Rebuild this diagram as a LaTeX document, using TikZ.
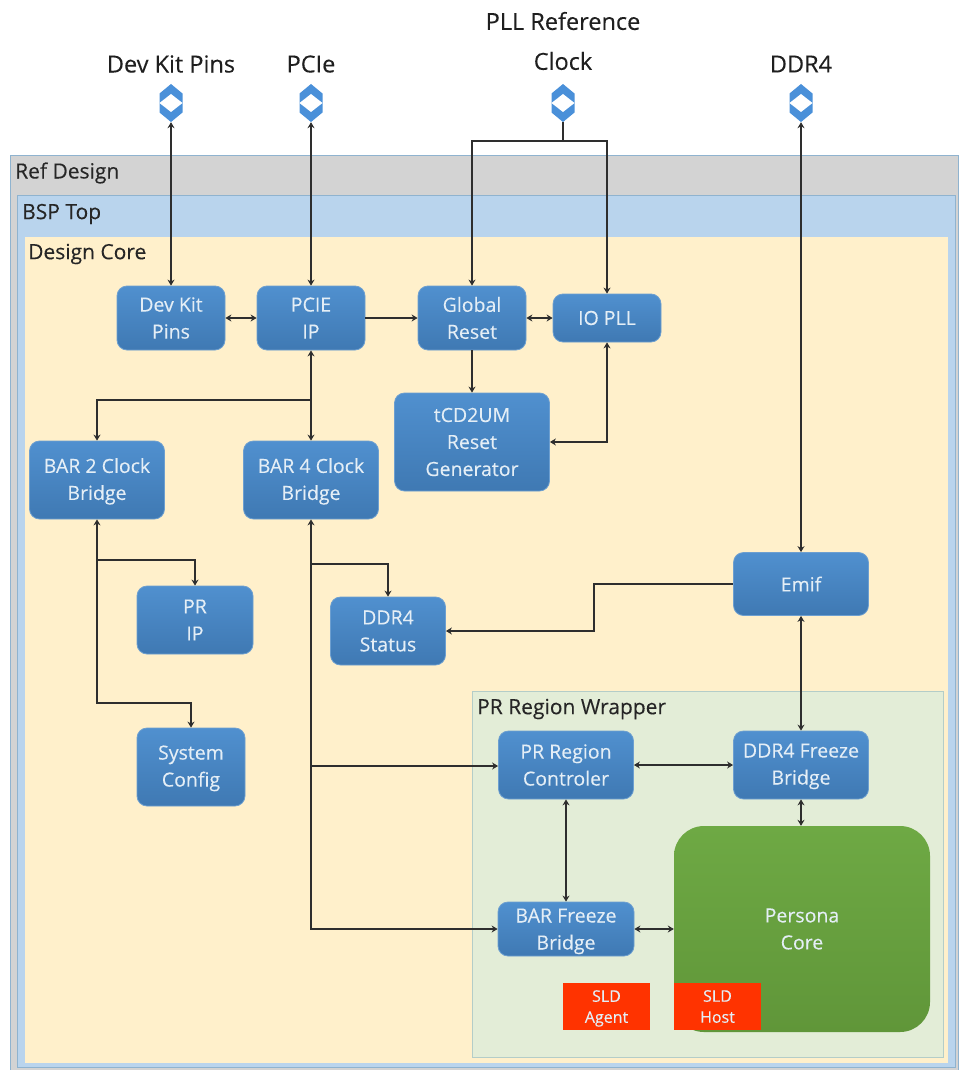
\documentclass[tikz,border=0pt]{standalone}
\usepackage{fontspec}
\setmainfont{Open Sans}
\newfontfamily\medfont{Open Sans}[FakeBold=0.2]
\usetikzlibrary{arrows.meta}
\definecolor{bluebrd}{HTML}{6D9FD0}
\definecolor{bluetop}{HTML}{5090CF}
\definecolor{bluebot}{HTML}{3F79B3}
\definecolor{blutext}{HTML}{E4EEF6}
\definecolor{greentop}{HTML}{6EA944}
\definecolor{greenbot}{HTML}{609639}
\definecolor{sldred}{HTML}{FF3300}
\definecolor{portblue}{HTML}{4A90D9}
\definecolor{linecol}{HTML}{2E2E2E}
\definecolor{refgray}{HTML}{D3D3D3}
\definecolor{bsp}{HTML}{B9D4ED}
\definecolor{core}{HTML}{FFF0CB}
\definecolor{wrap}{HTML}{E3EDD7}
\definecolor{edgeblue}{HTML}{8FB3CF}
\definecolor{edgewrap}{HTML}{B4CDC8}
\tikzset{
  container/.style={draw=#1, line width=1pt, anchor=north west, inner sep=0pt},
  title/.style={anchor=west, inner sep=0pt, text=black!85, yshift=-2pt, font=\medfont\fontsize{21}{24}\selectfont},
  toplabel/.style={inner sep=0pt, text=black!88, font=\medfont\fontsize{23.5}{26}\selectfont},
  block/.style={rounded corners=10pt, draw=bluebrd, line width=0.8pt,
    top color=bluetop, bottom color=bluebot, text=blutext, align=center, inner sep=0pt,
    font=\medfont\fontsize{19.5}{27}\selectfont},
  persona/.style={rounded corners=30pt, top color=greentop, bottom color=greenbot, text=blutext,
    align=center, inner sep=0pt, font=\medfont\fontsize{19.5}{27}\selectfont},
  sld/.style={fill=sldred, text=blutext, align=center, inner sep=0pt,
    minimum width=87pt, minimum height=47pt, font=\medfont\fontsize{16}{21}\selectfont},
  dropone/.style={text depth=2pt},
  droptwo/.style={text depth=0pt},
  port/.style={minimum width=23pt, minimum height=38pt, inner sep=0pt,
    path picture={
      \fill[portblue] (path picture bounding box.center) ++(0,-19) -- ++(11.5,9.5) -- ++(0,19) -- ++(-11.5,9.5) -- ++(-11.5,-9.5) -- ++(0,-19) -- cycle;
      \fill[white] (path picture bounding box.center) ++(-11.5,0) -- ++(11.5,-9) -- ++(11.5,9) -- ++(-11.5,9) -- cycle;
    }},
  plain/.style={draw=linecol, line width=1.5pt},
  link/.style={plain, -{Stealth[length=6pt,width=7pt]}},
  dlink/.style={plain, {Stealth[length=6pt,width=7pt]}-{Stealth[length=6pt,width=7pt]}},
}
\begin{document}
\begin{tikzpicture}[x=1pt,y=-1pt]
\useasboundingbox (0,0) rectangle (958,1070);
% containers
\node[container=edgeblue, fill=refgray, minimum width=948pt, minimum height=915pt] (ref) at (10,155) {};
\node[container=edgeblue, fill=bsp, minimum width=938pt, minimum height=872pt] (bsp) at (17,195) {};
\node[container=bsp, fill=core, minimum width=924pt, minimum height=827pt] (core) at (24,236) {};
\node[container=edgewrap, fill=wrap, minimum width=471pt, minimum height=366pt] (wrapper) at (472,691) {};
\node[title] (tref) at (15,171) {Ref Design};
\node[title] (tbsp) at (22,212) {BSP Top};
\node[title] (tcore) at (28,252) {Design Core};
\node[title] (twrap) at (477,707) {PR Region Wrapper};
% top labels
\node[toplabel] (l1) at (171,64) {Dev Kit Pins};
\node[toplabel] (l2) at (311,64) {PCIe};
\node[toplabel] (l3a) at (563,21) {PLL Reference};
\node[toplabel] (l3b) at (563,61) {Clock};
\node[toplabel] (l4) at (801,64) {DDR4};
% ports
\node[port] (p1) at (171,103) {};
\node[port] (p2) at (311,103) {};
\node[port] (p3) at (563,103) {};
\node[port] (p4) at (801,103) {};
% blocks
\node[block, minimum width=108pt, minimum height=64pt] (devkit) at (171,318) {Dev Kit\\Pins};
\node[block, minimum width=108pt, minimum height=64pt] (pcie) at (311,318) {PCIE\\IP};
\node[block, minimum width=108pt, minimum height=64pt] (global) at (472,318) {Global\\Reset};
\node[block, minimum width=108pt, minimum height=48pt] (iopll) at (607,318) {IO PLL};
\node[block, minimum width=155pt, minimum height=98pt] (tcd) at (472,442) {tCD2UM\\Reset\\Generator};
\node[block, dropone, minimum width=135pt, minimum height=78pt] (bar2) at (97,480) {BAR 2 Clock\\Bridge};
\node[block, dropone, minimum width=135pt, minimum height=78pt] (bar4) at (311,480) {BAR 4 Clock\\Bridge};
\node[block, minimum width=116pt, minimum height=68pt] (prip) at (195,620) {PR\\IP};
\node[block, minimum width=115pt, minimum height=68pt] (status) at (388,631) {DDR4\\Status};
\node[block, dropone, minimum width=108pt, minimum height=78pt] (sysconf) at (191,767) {System\\Config};
\node[block, minimum width=135pt, minimum height=63pt] (emif) at (801,584) {Emif};
\node[block, minimum width=135pt, minimum height=68pt] (prctrl) at (566,765) {PR Region\\Controler};
\node[block, dropone, minimum width=135pt, minimum height=68pt] (ddrfrz) at (801,765) {DDR4 Freeze\\Bridge};
\node[block, droptwo, minimum width=136pt, minimum height=54pt] (barfrz) at (566,929) {BAR Freeze\\Bridge};
\node[persona, minimum width=256pt, minimum height=206pt] (core2) at (802,929) {Persona\\Core};
\node[sld, droptwo] (agent) at (606.5,1006.5) {SLD\\Agent};
\node[sld] (host) at (717.5,1006.5) {SLD\\Host};
% junctions
\coordinate (j3) at (p3.south |- 0,141);
\coordinate (jpcie) at (pcie.south |- 0,400);
\coordinate (jb2a) at (bar2.south |- 0,560);
\coordinate (jb2b) at (bar2.south |- 0,703);
\coordinate (jb4a) at (bar4.south |- 0,564);
\coordinate (jb4b) at (bar4.south |- 0,766);
\coordinate (jb4c) at (bar4.south |- 0,929);
\coordinate (jemif) at (594,584);
% connectors
\draw[dlink] (p1.south) -- (devkit.north);
\draw[dlink] (p2.south) -- (pcie.north);
\draw[dlink] (p4.south) -- (p4.south |- emif.north);
\draw[plain] (p3.south) -- (j3);
\draw[link] (j3) -| (global.north);
\draw[link] (j3) -| (iopll.north);
\draw[dlink] (devkit.east) -- (pcie.west);
\draw[link] (pcie.east) -- (global.west);
\draw[dlink] (global.east) -- (iopll.west);
\draw[link] (global.south) -- (global.south |- tcd.north);
\draw[dlink] (iopll.south) |- (tcd.east);
\draw[dlink] (pcie.south) -- (pcie.south |- bar4.north);
\draw[link] (jpcie) -| (bar2.north);
\draw[dlink] (bar2.south) |- (sysconf.north |- jb2b) -- (sysconf.north);
\draw[link] (jb2a) -| (prip.north);
\draw[dlink] (bar4.south) |- (barfrz.west |- jb4c);
\draw[link] (jb4a) -| (status.north);
\draw[link] (jb4b) -- (jb4b -| prctrl.west);
\draw[link] (emif.west) -- (jemif) |- (status.east);
\draw[dlink] (emif.south) -- (emif.south |- ddrfrz.north);
\draw[dlink] (prctrl.east) -- (ddrfrz.west);
\draw[dlink] (prctrl.south) -- (prctrl.south |- barfrz.north);
\draw[dlink] (ddrfrz.south) -- (ddrfrz.south |- core2.north);
\draw[dlink] (barfrz.east) -- (core2.west);
\end{tikzpicture}
\end{document}
